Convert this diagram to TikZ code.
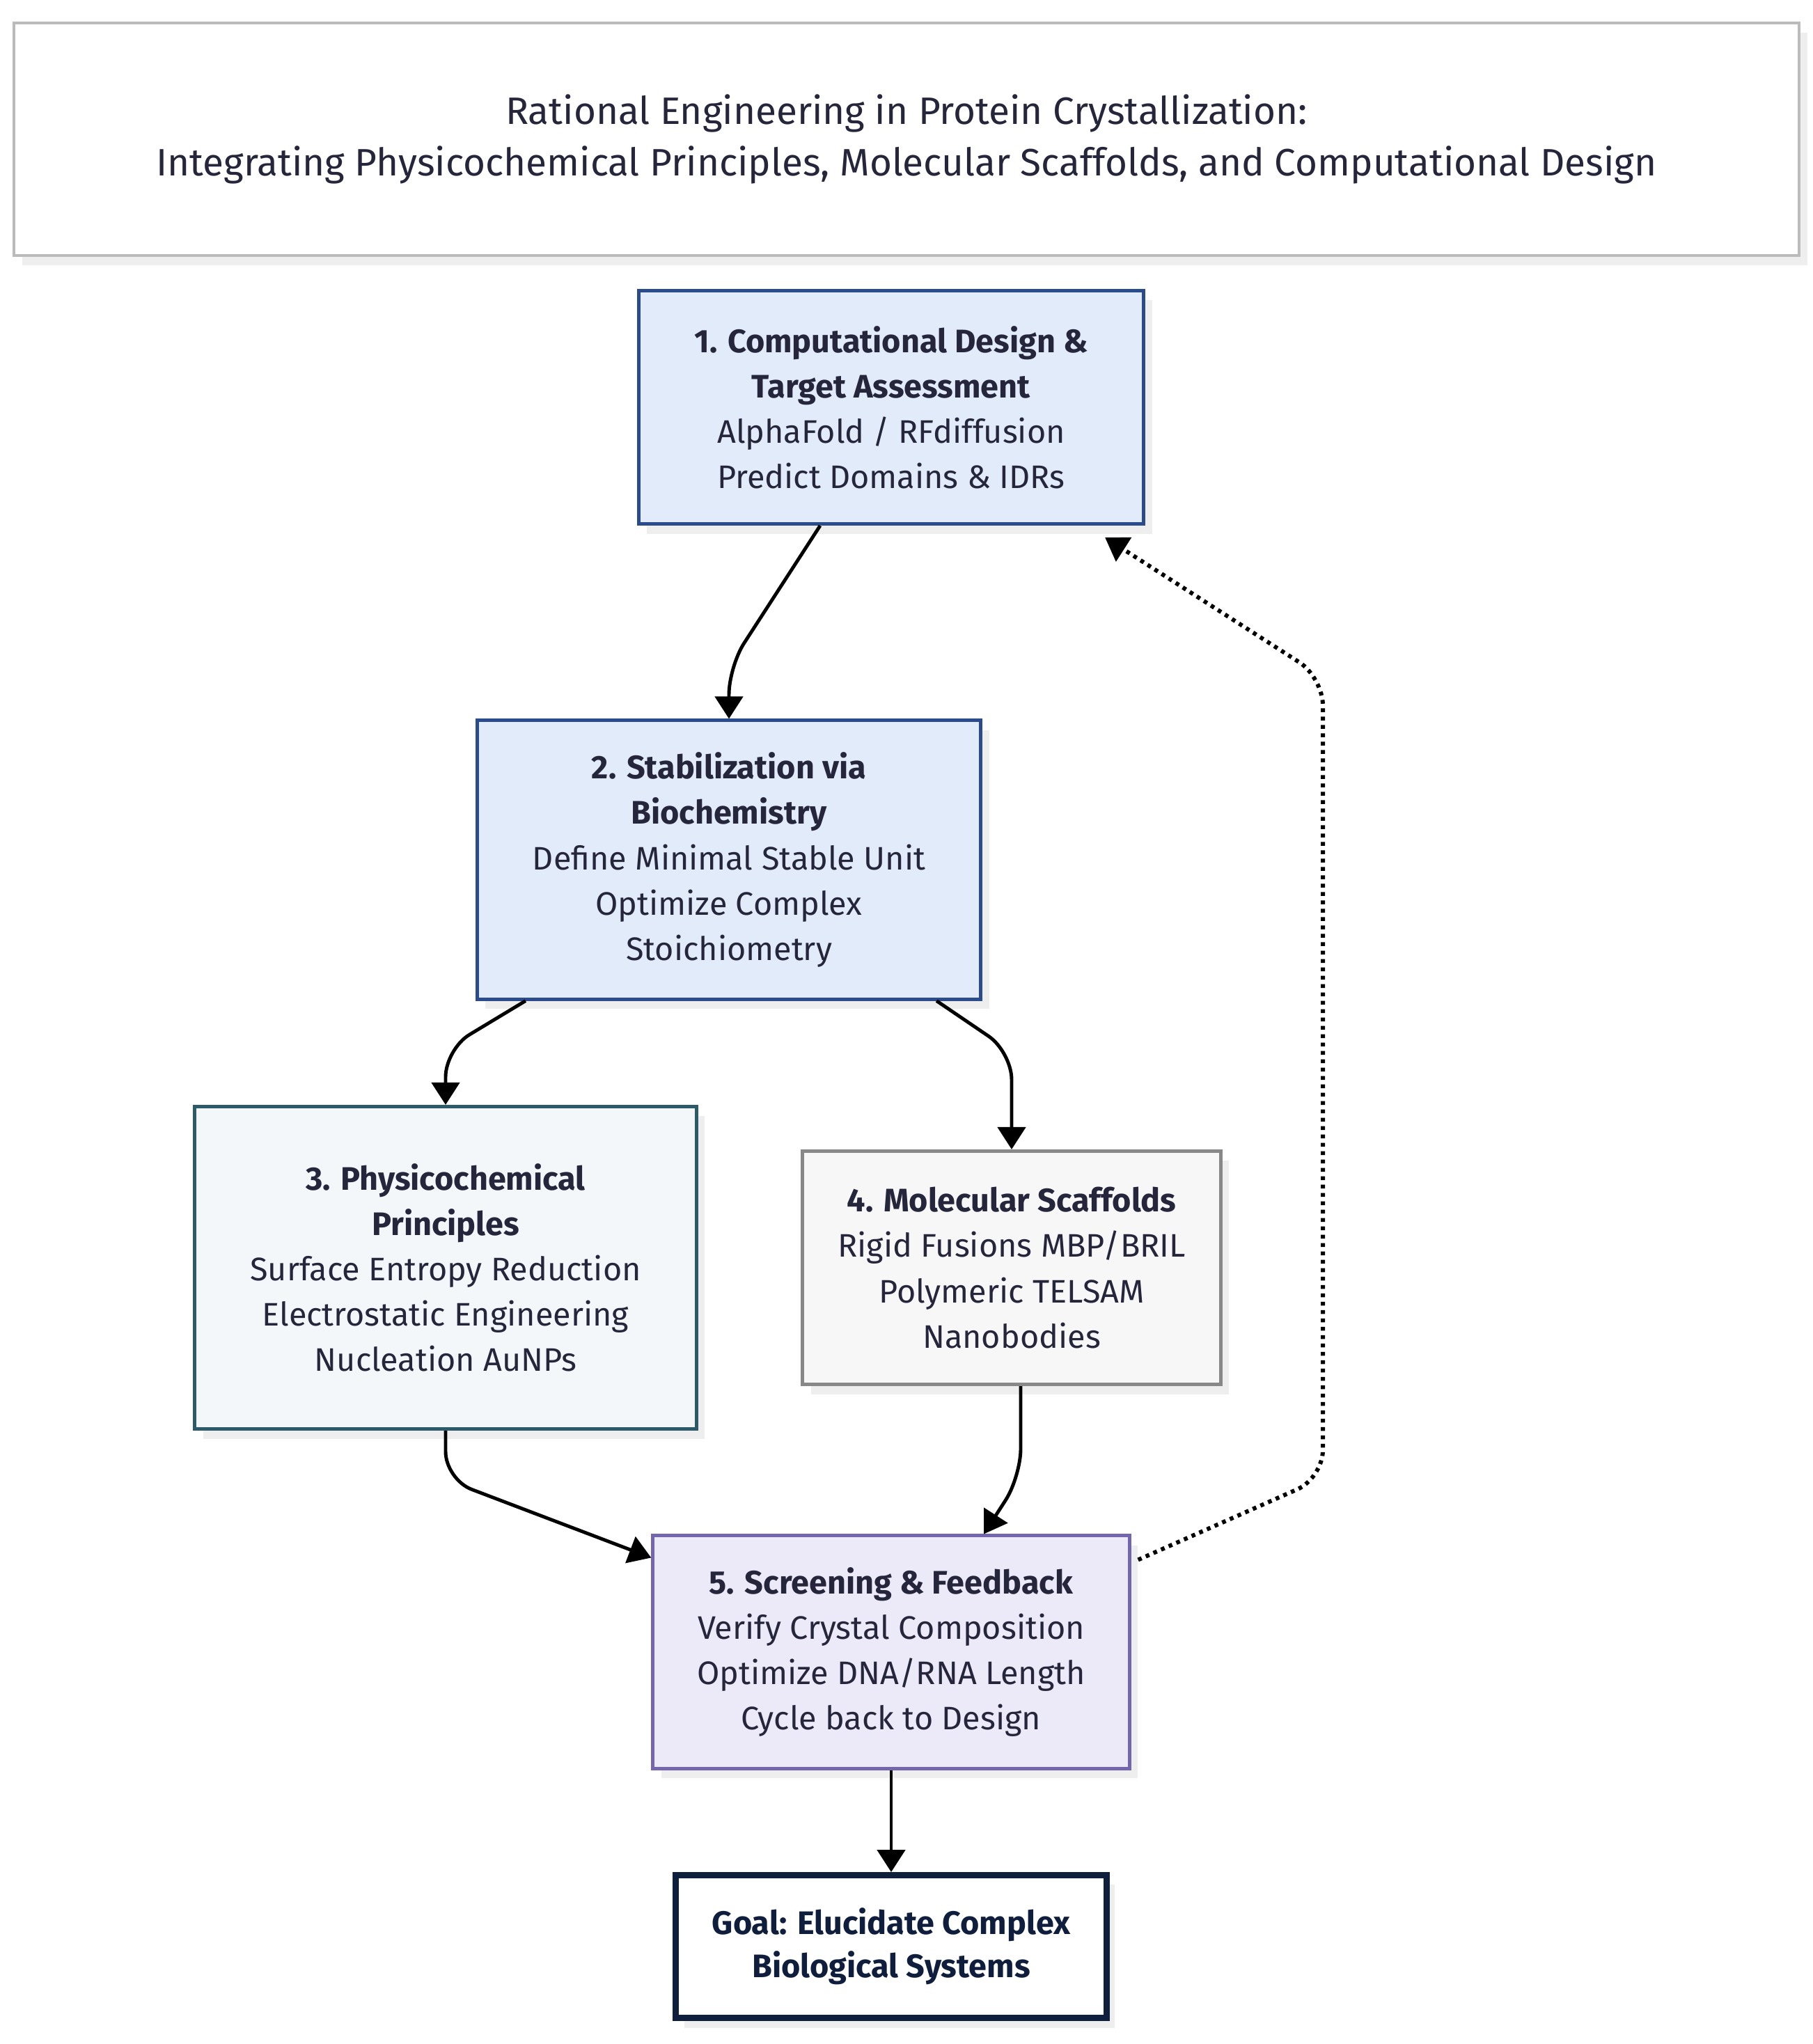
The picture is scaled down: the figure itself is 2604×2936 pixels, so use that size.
\documentclass[tikz,border=0pt]{standalone}
\usepackage{fontspec}
\setmainfont{Fira Sans}
\usepackage{tikz}
\usetikzlibrary{arrows.meta}
\usetikzlibrary{shadows}
\definecolor{inkText}{HTML}{25253B}
\definecolor{inkGoal}{HTML}{0F1E3D}
\definecolor{shadowGray}{HTML}{EEEEEE}
\definecolor{titleLine}{HTML}{BBBBBB}
\definecolor{designFill}{HTML}{E2EBFA}
\definecolor{designLine}{HTML}{2B4C8C}
\definecolor{physFill}{HTML}{F3F7FA}
\definecolor{physLine}{HTML}{2C5A6B}
\definecolor{scafFill}{HTML}{F7F7F7}
\definecolor{scafLine}{HTML}{888888}
\definecolor{screenFill}{HTML}{ECEAF8}
\definecolor{screenLine}{HTML}{7466AE}

\begin{document}
\begin{tikzpicture}[x=0.01cm, y=-0.01cm,
  box/.style={draw, line width=1.4pt, align=center, inner sep=0pt, text=inkText,
    font=\fontsize{13.3pt}{18.5pt}\selectfont,
    drop shadow={shadow xshift=0.12cm, shadow yshift=-0.14cm, fill=shadowGray, opacity=1}},
  titlebox/.style={box, draw=titleLine, fill=white, line width=1.1pt,
    font=\fontsize{15.6pt}{21pt}\selectfont},
  link/.style={line width=1.4pt, rounded corners=0.4cm,
    -{Triangle[width=0.4cm, length=0.32cm]}},
  feedback/.style={link, line width=1.7pt, dash pattern=on 0.055cm off 0.065cm}]
  \useasboundingbox (0,0) rectangle (2604,2936);

  %% title
  \node[titlebox, minimum width=25.63cm, minimum height=3.34cm] (title) at (1302,200)
    {Rational Engineering in Protein Crystallization:\\
     Integrating Physicochemical Principles, Molecular Scaffolds, and Computational Design};

  %% stages
  \node[box, fill=designFill, draw=designLine, minimum width=7.25cm, minimum height=3.35cm]
    (design) at (1280,585)
    {\textbf{1. Computational Design \&}\\\textbf{Target Assessment}\\
     AlphaFold / RFdiffusion\\Predict Domains \& IDRs};
  \node[box, fill=designFill, draw=designLine, minimum width=7.23cm, minimum height=4cm]
    (stab) at (1047,1235)
    {\textbf{2. Stabilization via}\\\textbf{Biochemistry}\\
     Define Minimal Stable Unit\\Optimize Complex\\Stoichiometry};
  \node[box, fill=physFill, draw=physLine, minimum width=7.2cm, minimum height=4.63cm]
    (phys) at (640,1821)
    {\textbf{3. Physicochemical}\\\textbf{Principles}\\
     Surface Entropy Reduction\\Electrostatic Engineering\\Nucleation AuNPs};
  \node[box, fill=scafFill, draw=scafLine, minimum width=6cm, minimum height=3.35cm]
    (scaf) at (1453,1821)
    {\textbf{4. Molecular Scaffolds}\\
     Rigid Fusions MBP/BRIL\\Polymeric TELSAM\\Nanobodies};
  \node[box, fill=screenFill, draw=screenLine, minimum width=6.84cm, minimum height=3.34cm]
    (screen) at (1280,2373)
    {\textbf{5. Screening \& Feedback}\\
     Verify Crystal Composition\\Optimize DNA/RNA Length\\Cycle back to Design};
  \node[box, fill=white, draw=inkGoal, text=inkGoal, line width=2.5pt,
    font=\fontsize{13.3pt}{17.6pt}\selectfont\bfseries,
    minimum width=6.18cm, minimum height=2.05cm]
    (goal) at (1280,2796)
    {Goal: Elucidate Complex\\Biological Systems};

  %% flow
  \draw[link] ([xshift=-1.02cm]design.south) -- ([yshift=0.75cm]stab.north) -- (stab.north);
  \draw[link] ([xshift=-2.92cm]stab.south) -- ([yshift=0.8cm]phys.north) -- (phys.north);
  \draw[link] ([xshift=2.98cm]stab.south) -- ([yshift=1.4cm]scaf.north) -- (scaf.north);
  \draw[link] (phys.south) -- ++(0,70) -- ([yshift=-0.34cm]screen.north west);
  \draw[link] ([xshift=0.13cm]scaf.south) -- ++(0,130) -- ([xshift=1.33cm]screen.north);
  \draw[link] (screen.south) -- (goal.north);

  % cycle back
  \coordinate (loopLow) at (1900,2123);
  \coordinate (loopHigh) at (1900,973);
  \draw[feedback] ([xshift=0.1cm,yshift=-0.37cm]screen.north east) -- (loopLow)
    -- (loopHigh) -- ([xshift=-0.58cm,yshift=-0.17cm]design.south east);
\end{tikzpicture}
\end{document}
